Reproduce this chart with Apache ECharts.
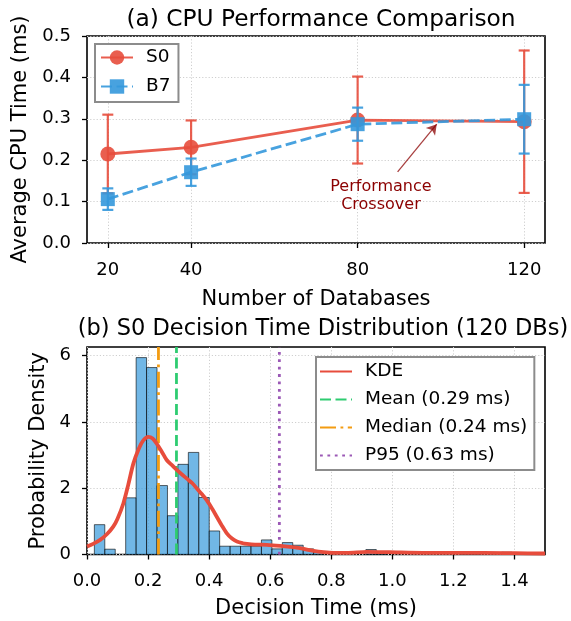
<!DOCTYPE html>
<html>
<head>
<meta charset="utf-8">
<script src="https://cdn.jsdelivr.net/npm/echarts@6/dist/echarts.min.js"></script>
<style>html,body{margin:0;padding:0;background:#fff;}#c{width:571px;height:621px;}</style>
</head>
<body>
<div id="c"></div>
<script>
// ---- Panel (a) data ----
const dbCounts = [20, 40, 80, 120];
const s0Mean = [0.215, 0.231, 0.297, 0.293];
const s0Err  = [0.095, 0.065, 0.105, 0.172];
const b7Mean = [0.106, 0.171, 0.287, 0.299];
const b7Err  = [0.026, 0.033, 0.040, 0.083];
const xTicksA = [20, 40, 80, 120];
const annotText = 'Performance\nCrossover';
const annotTextPos = [85.6, 0.1135];
const annotArrowFrom = [89.6, 0.172];
const annotArrowTo = [99.0, 0.287];

// ---- Panel (b) data ----
const binWidth = 0.0342;
const binLeft = [0.0241, 0.0583, 0.1267, 0.1609, 0.1951, 0.2293, 0.2635, 0.2977, 0.3319, 0.3661,
                 0.4003, 0.4345, 0.4687, 0.5029, 0.5371, 0.5713, 0.6055, 0.6397, 0.6739, 0.7081,
                 0.7423, 0.9133, 0.9475, 1.2211, 1.2553, 1.3579];
const binDensity = [0.90, 0.16, 1.71, 5.94, 5.64, 2.08, 1.17, 2.72, 3.08, 1.72,
                    0.71, 0.25, 0.25, 0.25, 0.25, 0.44, 0.17, 0.36, 0.28, 0.17,
                    0.08, 0.15, 0.07, 0.07, 0.07, 0.07];
const kdeX = [0, 0.02, 0.043, 0.065, 0.086, 0.1, 0.119, 0.135, 0.152, 0.17, 0.185, 0.201, 0.215, 0.228,
              0.245, 0.261, 0.28, 0.294, 0.31, 0.327, 0.345, 0.36, 0.375, 0.392, 0.41, 0.425, 0.44,
              0.458, 0.475, 0.491, 0.51, 0.524, 0.55, 0.589, 0.633, 0.665, 0.698, 0.742, 0.775, 0.807,
              0.85, 0.917, 0.99, 1.1, 1.2, 1.3, 1.4, 1.5];
const kdeY = [0.24, 0.32, 0.44, 0.61, 0.84, 1.08, 1.54, 2.1, 2.75, 3.2, 3.45, 3.55, 3.5, 3.35,
              3.1, 2.85, 2.68, 2.55, 2.42, 2.29, 2.15, 1.99, 1.83, 1.64, 1.38, 1.14, 0.9,
              0.64, 0.48, 0.39, 0.34, 0.32, 0.3, 0.29, 0.26, 0.23, 0.19, 0.11, 0.07, 0.05,
              0.05, 0.08, 0.07, 0.05, 0.05, 0.05, 0.04, 0.03];
const meanVal = 0.293, medianVal = 0.234, p95Val = 0.63;
const yMaxB = 6.26;
const xTicksB = [0.0, 0.2, 0.4, 0.6, 0.8, 1.0, 1.2, 1.4];
const yTicksB = [0, 2, 4, 6];

const RED = '#e74c3c', BLUE = '#3498db';
const FONT = 'DejaVu Sans';
const gridLine = {show: true, lineStyle: {color: '#cfcfcf', width: 1, type: [1.2, 2]}};
const tick = {show: true, inside: false, length: 5, lineStyle: {color: '#000', width: 1.3}};

function errData(means, errs) {
  return dbCounts.map((x, i) => [x, means[i] - errs[i], means[i] + errs[i]]);
}
function errRender(color) {
  return function (params, api) {
    const x = api.value(0), lo = api.value(1), hi = api.value(2);
    const p1 = api.coord([x, hi]), p2 = api.coord([x, lo]);
    const cw = 5.5;
    const st = {stroke: color, lineWidth: 2.2, opacity: 0.9};
    return {type: 'group', children: [
      {type: 'line', shape: {x1: p1[0], y1: p1[1], x2: p2[0], y2: p2[1]}, style: st},
      {type: 'line', shape: {x1: p1[0] - cw, y1: p1[1], x2: p1[0] + cw, y2: p1[1]}, style: st},
      {type: 'line', shape: {x1: p2[0] - cw, y1: p2[1], x2: p2[0] + cw, y2: p2[1]}, style: st}
    ]};
  };
}

const histData = binLeft.map((l, i) => [l, l + binWidth, binDensity[i]]);
const kdeData = kdeX.map((x, i) => [x, kdeY[i]]);
const noSym = {opacity: 0};

const option = {
  backgroundColor: '#fff',
  animation: false,
  textStyle: {fontFamily: FONT},
  title: [
    {text: '(a) CPU Performance Comparison', left: 316, top: 3, textAlign: 'center',
     textStyle: {fontFamily: FONT, fontSize: 23.3, fontWeight: 'normal', color: '#000'}},
    {text: '(b) S0 Decision Time Distribution (120 DBs)', left: 318, top: 313, textAlign: 'center',
     textStyle: {fontFamily: FONT, fontSize: 22.5, fontWeight: 'normal', color: '#000'}}
  ],
  legend: [
    {data: ['S0', 'B7'], left: 95, top: 44, orient: 'vertical',
     padding: [4, 8, 6, 5], itemGap: 10, itemWidth: 32, itemHeight: 18,
     backgroundColor: '#fff', borderColor: '#8c8c8c', borderWidth: 2,
     textStyle: {fontFamily: FONT, fontSize: 18.5, color: '#000', padding: [0, 0, 0, 8]}},
    {data: [{name: 'KDE', itemStyle: noSym}, {name: 'Mean (0.29 ms)', itemStyle: noSym},
            {name: 'Median (0.24 ms)', itemStyle: noSym}, {name: 'P95 (0.63 ms)', itemStyle: noSym}],
     left: 316, top: 357, orient: 'vertical',
     padding: [5, 7, 5, 3], itemGap: 9, itemWidth: 32, itemHeight: 14,
     backgroundColor: '#fff', borderColor: '#8c8c8c', borderWidth: 2,
     textStyle: {fontFamily: FONT, fontSize: 18.5, color: '#000', padding: [0, 0, 0, 8]}}
  ],
  grid: [
    {left: 87, top: 36, width: 458, height: 207, show: true, borderColor: '#000', borderWidth: 1.6, backgroundColor: 'transparent'},
    {left: 87, top: 347, width: 458, height: 207.5, show: true, borderColor: '#000', borderWidth: 1.6, backgroundColor: 'transparent'}
  ],
  xAxis: [
    {type: 'value', gridIndex: 0, min: 15, max: 125,
     axisLine: {show: false}, axisTick: Object.assign({customValues: xTicksA}, tick),
     axisLabel: {customValues: xTicksA, fontSize: 18, color: '#000', margin: 18, fontFamily: FONT},
     splitLine: gridLine,
     name: 'Number of Databases', nameLocation: 'middle', nameGap: 46,
     nameTextStyle: {fontSize: 21, color: '#000', fontFamily: FONT}},
    {type: 'value', gridIndex: 1, min: 0, max: 1.5,
     axisLine: {show: false}, axisTick: Object.assign({customValues: xTicksB}, tick),
     axisLabel: {customValues: xTicksB, fontSize: 18, color: '#000', margin: 18, fontFamily: FONT,
                 formatter: v => v.toFixed(1)},
     splitLine: gridLine,
     name: 'Decision Time (ms)', nameLocation: 'middle', nameGap: 44,
     nameTextStyle: {fontSize: 21, color: '#000', fontFamily: FONT}}
  ],
  yAxis: [
    {type: 'value', gridIndex: 0, min: 0, max: 0.5, interval: 0.1,
     axisLine: {show: false}, axisTick: tick,
     axisLabel: {fontSize: 18, color: '#000', margin: 16, fontFamily: FONT, formatter: v => v.toFixed(1)},
     splitLine: gridLine,
     name: 'Average CPU Time (ms)', nameLocation: 'middle', nameGap: 56,
     nameTextStyle: {fontSize: 21, color: '#000', fontFamily: FONT}},
    {type: 'value', gridIndex: 1, min: 0, max: yMaxB,
     axisLine: {show: false}, axisTick: Object.assign({customValues: yTicksB}, tick),
     axisLabel: {customValues: yTicksB, fontSize: 18, color: '#000', margin: 16, fontFamily: FONT},
     splitLine: gridLine,
     name: 'Probability Density', nameLocation: 'middle', nameGap: 38,
     nameTextStyle: {fontSize: 21, color: '#000', fontFamily: FONT}}
  ],
  series: [
    // panel (a)
    {name: 'S0', type: 'line', xAxisIndex: 0, yAxisIndex: 0,
     data: dbCounts.map((x, i) => [x, s0Mean[i]]),
     symbol: 'circle', symbolSize: 15, z: 3,
     lineStyle: {color: RED, width: 2.8, opacity: 0.9},
     itemStyle: {color: RED, opacity: 0.9}},
    {name: 'S0err', type: 'custom', xAxisIndex: 0, yAxisIndex: 0, z: 3,
     data: errData(s0Mean, s0Err), encode: {x: 0, y: [1, 2]}, renderItem: errRender(RED)},
    {name: 'B7', type: 'line', xAxisIndex: 0, yAxisIndex: 0,
     data: dbCounts.map((x, i) => [x, b7Mean[i]]),
     symbol: 'rect', symbolSize: 14, z: 4,
     lineStyle: {color: BLUE, width: 2.8, type: [11, 4.5], opacity: 0.9},
     itemStyle: {color: BLUE, opacity: 0.9}},
    {name: 'B7err', type: 'custom', xAxisIndex: 0, yAxisIndex: 0, z: 4,
     data: errData(b7Mean, b7Err), encode: {x: 0, y: [1, 2]}, renderItem: errRender(BLUE)},
    {name: 'annot', type: 'line', xAxisIndex: 0, yAxisIndex: 0, data: [], z: 5,
     markLine: {silent: true, symbol: ['none', 'arrow'], symbolSize: [9, 10],
       label: {show: false},
       lineStyle: {color: '#8B0000', width: 1.3, type: 'solid', opacity: 0.75},
       data: [[{coord: annotArrowFrom}, {coord: annotArrowTo}]]},
     markPoint: {silent: true, symbol: 'circle', symbolSize: 1, itemStyle: {color: 'rgba(0,0,0,0)'},
       label: {show: true, position: 'inside', formatter: annotText, color: '#8B0000',
               fontSize: 16, lineHeight: 18.5, fontFamily: FONT, align: 'center'},
       data: [{coord: annotTextPos}]}},
    // panel (b)
    {name: 'hist', type: 'custom', xAxisIndex: 1, yAxisIndex: 1, z: 2,
     data: histData, encode: {x: [0, 1], y: 2},
     renderItem: function (params, api) {
       const a = api.coord([api.value(0), api.value(2)]);
       const b = api.coord([api.value(1), 0]);
       return {type: 'rect', shape: {x: a[0], y: a[1], width: b[0] - a[0], height: b[1] - a[1]},
               style: {fill: 'rgba(52,152,219,0.7)', stroke: 'rgba(0,0,0,0.6)', lineWidth: 1}};
     }},
    {name: 'KDE', type: 'line', xAxisIndex: 1, yAxisIndex: 1, z: 5,
     data: kdeData, smooth: 0.3, symbol: 'none',
     lineStyle: {color: RED, width: 3.8}, itemStyle: {color: RED}},
    {name: 'Mean (0.29 ms)', type: 'line', xAxisIndex: 1, yAxisIndex: 1, z: 4,
     data: [[meanVal, 0], [meanVal, yMaxB]], symbol: 'none',
     lineStyle: {color: '#2ecc71', width: 2.8, type: [11, 4.5]}, itemStyle: {color: '#2ecc71'}},
    {name: 'Median (0.24 ms)', type: 'line', xAxisIndex: 1, yAxisIndex: 1, z: 4,
     data: [[medianVal, 0], [medianVal, yMaxB]], symbol: 'none',
     lineStyle: {color: '#f39c12', width: 2.8, type: [16, 4.5, 2.8, 4.5]}, itemStyle: {color: '#f39c12'}},
    {name: 'P95 (0.63 ms)', type: 'line', xAxisIndex: 1, yAxisIndex: 1, z: 4,
     data: [[p95Val, 0], [p95Val, yMaxB]], symbol: 'none',
     lineStyle: {color: '#9b59b6', width: 2.8, type: [2.8, 4.6]}, itemStyle: {color: '#9b59b6'}}
  ]
};

const chart = echarts.init(document.getElementById('c'), null, {renderer: 'canvas'});
chart.setOption(option);
</script>
</body>
</html>
